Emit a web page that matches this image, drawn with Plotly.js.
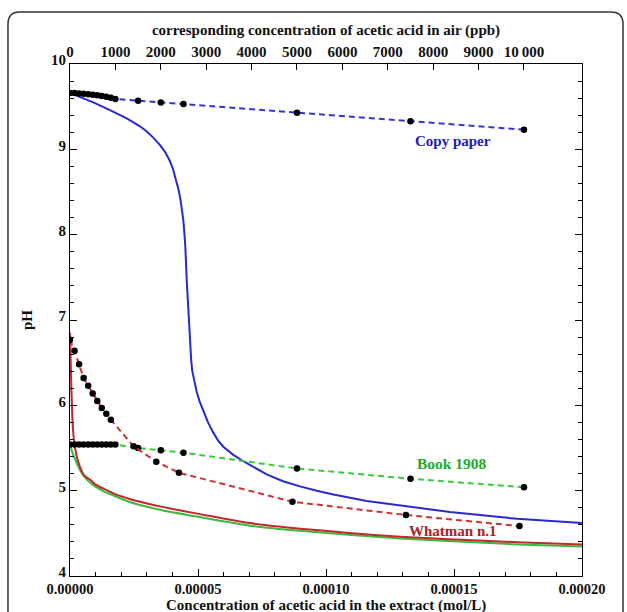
<!DOCTYPE html>
<html><head><meta charset="utf-8">
<script src="https://cdn.plot.ly/plotly-3.0.1.min.js"></script>
<style>html,body{margin:0;padding:0;background:#fff}</style>
</head><body><div id="chart" style="width:627px;height:612px"></div>
<script>
// ---- measured points (air concentration, ppb; top axis) ----
const copyPpb = [0,100,200,300,400,500,600,700,800,900,1000,1500,2000,2500,5000,7500,10000];
const copyPH  = [9.66,9.66,9.655,9.65,9.645,9.64,9.635,9.625,9.615,9.605,9.59,9.57,9.55,9.53,9.43,9.33,9.23];

const bookPpb = [0,100,200,300,400,500,600,700,800,900,1000,1500,2000,2500,5000,7500,10000];
const bookPH  = [5.54,5.54,5.54,5.54,5.54,5.54,5.54,5.54,5.54,5.54,5.54,5.50,5.475,5.445,5.26,5.14,5.04];

const whatPpb = [0,100,200,300,400,500,600,700,800,900,1400,1900,2400,4900,7400,9900];
const whatPH  = [6.77,6.64,6.48,6.32,6.23,6.14,6.05,5.97,5.90,5.83,5.52,5.34,5.21,4.87,4.715,4.585];

// ---- theoretical curves (extract concentration, mol/L; bottom axis) ----
const blueC  = [0,0.91e-5,1.5625e-5,2.215e-5,2.734e-5,3.0e-5,3.242e-5,3.516e-5,3.711e-5,3.906e-5,4.023e-5,4.141e-5,4.238e-5,4.316e-5,4.375e-5,4.426e-5,4.473e-5,4.504e-5,4.559e-5,4.621e-5,4.688e-5,4.734e-5,4.777e-5,4.855e-5,4.949e-5,5.059e-5,5.207e-5,5.391e-5,5.598e-5,5.781e-5,5.988e-5,6.379e-5,6.77e-5,7.031e-5,7.684e-5,8.32e-5,8.984e-5,9.64e-5,10.29e-5,11.59e-5,12.89e-5,14.84e-5,17.46e-5,20.0e-5];
const bluePH = [9.66,9.55,9.46,9.364,9.27,9.21,9.14,9.05,8.97,8.86,8.77,8.65,8.53,8.41,8.29,8.17,8.00,7.86,7.47,7.08,6.69,6.53,6.40,6.27,6.16,6.05,5.93,5.80,5.68,5.59,5.515,5.42,5.345,5.30,5.19,5.11,5.05,5.0,4.955,4.88,4.83,4.75,4.67,4.62];

const redC  = [0,0.02e-5,0.04e-5,0.07e-5,0.10e-5,0.145e-5,0.21e-5,0.29e-5,0.39e-5,0.55e-5,0.78e-5,1.0e-5,1.33e-5,1.76e-5,2.3e-5,2.93e-5,3.6e-5,5.08e-5,7.03e-5,9.0e-5,10.9e-5,12.9e-5,14.8e-5,17.5e-5,20.0e-5];
const redPH = [6.85,6.60,6.35,6.05,5.80,5.62,5.48,5.37,5.28,5.18,5.13,5.07,5.02,4.96,4.905,4.855,4.81,4.725,4.62,4.555,4.505,4.46,4.43,4.395,4.37];

const greenC  = [0,0.04e-5,0.10e-5,0.21e-5,0.31e-5,0.47e-5,0.70e-5,0.98e-5,1.33e-5,1.64e-5,2.30e-5,3.59e-5,5.16e-5,7.03e-5,8.98e-5,12.9e-5,17.5e-5,20.0e-5];
const greenPH = [5.54,5.50,5.44,5.36,5.29,5.20,5.12,5.05,4.99,4.95,4.87,4.77,4.685,4.59,4.53,4.44,4.37,4.345];

const bottomTicks = [0,0.00005,0.0001,0.00015,0.0002];
const topTicks = [0,1000,2000,3000,4000,5000,6000,7000,8000,9000,10000];
const topTickText = ['0','1000','2000','3000','4000','5000','6000','7000','8000','9000','10\u2009000'];
const topMax = 11278; // ppb at right edge (0.00020 mol/L)

const F = 'Liberation Serif, Times New Roman, serif';

function solid(x, y, color, shape){
  return {x, y, xaxis:'x', yaxis:'y', mode:'lines', line:{color, width:2, shape:shape, smoothing:0.6}, hoverinfo:'skip', showlegend:false};
}
function dashed(x, y, color){
  return {x, y, xaxis:'x2', yaxis:'y', mode:'lines+markers', line:{color, width:2, dash:'6px,4px'},
    marker:{color:'#000', size:6.5}, showlegend:false};
}

const traces = [
  solid(greenC, greenPH, '#3cb83c', 'spline'),
  solid(redC, redPH, '#c0282c', 'spline'),
  solid(blueC, bluePH, '#2a2acc', 'linear'),
  dashed(copyPpb, copyPH, '#3434dc'),
  dashed(bookPpb, bookPH, '#3cc83c'),
  dashed(whatPpb, whatPH, '#cc3333')
];

const axisCommon = {showline:true, linecolor:'#000', linewidth:1, ticks:'inside', tickcolor:'#000',
  showgrid:false, zeroline:false, tickfont:{family:F, size:15, weight:'bold', color:'#111'}};

const layout = {
  width:627, height:612,
  margin:{l:70, r:45, t:64, b:36, pad:0},
  paper_bgcolor:'#fff', plot_bgcolor:'#fff',
  xaxis: Object.assign({}, axisCommon, {
    range:[0,0.0002], tickvals:bottomTicks, tickformat:'.5f', ticklen:7,
    tickfont:{family:F, size:14.5, weight:'bold', color:'#111'},
    minor:{dtick:0.00001, ticks:'inside', ticklen:4, tickcolor:'#000', showgrid:false},
    mirror:false, automargin:false
  }),
  xaxis2: Object.assign({}, axisCommon, {
    overlaying:'x', side:'top', anchor:'y', range:[0, topMax], tickvals:topTicks, ticktext:topTickText, ticklen:6,
    automargin:false,
    title:{text:'corresponding concentration of acetic acid in air (ppb)', font:{family:F, size:15, weight:'bold', color:'#111'}, standoff:4}
  }),
  yaxis: Object.assign({}, axisCommon, {
    range:[4,10], dtick:1, ticklen:7, mirror:'ticks', ticklabelshift:-4,
    minor:{dtick:0.2, ticks:'inside', ticklen:4, tickcolor:'#000', showgrid:false},
    automargin:false,
    title:{text:'pH', font:{family:F, size:15, weight:'bold', color:'#111'}, standoff:14}
  }),
  annotations:[
    {xref:'paper', yref:'paper', x:0.5, y:-0.0575, yanchor:'middle', xanchor:'center', showarrow:false,
     text:'Concentration of acetic acid in the extract (mol/L)', font:{family:F, size:15, weight:'bold', color:'#111'}},
    {xref:'x', yref:'y', x:0.0001497, y:9.10, text:'Copy paper', showarrow:false, font:{family:F, size:15, weight:'bold', color:'#1c1cb0'}},
    {xref:'x', yref:'y', x:0.0001491, y:5.32, text:'Book 1908', showarrow:false, font:{family:F, size:15.5, weight:'bold', color:'#22aa22'}},
    {xref:'x', yref:'y', x:0.0001497, y:4.527, text:'Whatman n.1', showarrow:false, font:{family:F, size:15, weight:'bold', color:'#b02020'}}
  ],
  shapes:[
    {type:'path', xref:'paper', yref:'paper', layer:'above',
     path:'M -0.1211,-0.12 L -0.1211,1.0782 Q -0.1211,1.1016 -0.0977,1.1016 L 1.0567,1.1016 Q 1.0801,1.1016 1.0801,1.0782 L 1.0801,-0.12',
     line:{color:'#333', width:1.5}}
  ]
};

Plotly.newPlot('chart', traces, layout, {staticPlot:true, displayModeBar:false});
</script>
</body></html>
